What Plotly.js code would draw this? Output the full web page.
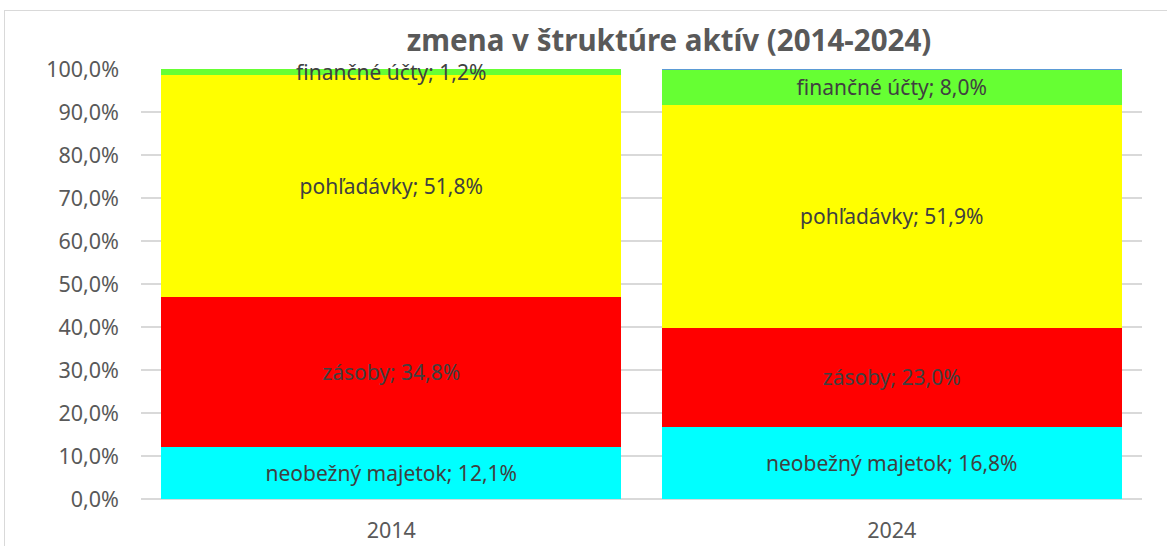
<!DOCTYPE html>
<html>
<head>
<meta charset="utf-8">
<script src="https://cdn.plot.ly/plotly-3.0.1.min.js"></script>
<style>
html,body{margin:0;padding:0;background:#fff;}
#wrap{position:relative;width:1167px;height:546px;overflow:hidden;}
#chart{width:1167px;height:546px;}
#frame{position:absolute;left:4px;top:10px;width:1200px;height:600px;border-left:1.5px solid #d9d9d9;border-top:1.5px solid #d9d9d9;pointer-events:none;}
</style>
</head>
<body>
<div id="wrap"><div id="chart"></div><div id="frame"></div></div>
<script>
const categories = ['2014', '2024'];
const seriesNames = ['neobežný majetok', 'zásoby', 'pohľadávky', 'finančné účty', 'ostatné'];
const neobezny = [12.1, 16.8];
const zasoby = [34.8, 23.0];
const pohladavky = [51.8, 51.9];
const financne = [1.2, 8.0];
const ostatne = [0.1, 0.3];
const yTickVals = [0, 10, 20, 30, 40, 50, 60, 70, 80, 90, 100];

const colors = ['#00ffff', '#ff0000', '#ffff00', '#66ff33', '#5b9bd5'];
const allValues = [neobezny, zasoby, pohladavky, financne, ostatne];
const showLabels = [true, true, true, true, false];

const fmt = v => v.toFixed(1).replace('.', ',');

const traces = allValues.map((vals, i) => ({
  type: 'bar',
  name: seriesNames[i],
  x: categories,
  y: vals,
  marker: {color: colors[i], line: {width: 0}},
  text: showLabels[i] ? vals.map(v => seriesNames[i] + '; ' + fmt(v) + '%') : vals.map(() => ''),
  texttemplate: '%{text}',
  textposition: showLabels[i] ? 'inside' : 'none',
  insidetextanchor: 'middle',
  constraintext: 'none',
  textangle: 0,
  cliponaxis: false,
  insidetextfont: {family: 'Noto Sans, sans-serif', size: 21, color: '#404040'},
  hoverinfo: 'skip'
}));

const layout = {
  width: 1167,
  height: 546,
  barmode: 'stack',
  bargap: 0.08,
  showlegend: false,
  separators: ',.',
  paper_bgcolor: '#ffffff',
  plot_bgcolor: '#ffffff',
  margin: {l: 141, r: 25, t: 69, b: 47, pad: 0},
  font: {family: 'Noto Sans, sans-serif', color: '#595959'},
  title: {
    text: '<b>zmena v štruktúre aktív (2014-2024)</b>',
    font: {family: 'Noto Sans, sans-serif', size: 29.5, color: '#595959'},
    xref: 'container', x: 669 / 1167, xanchor: 'center',
    yref: 'container', y: 1 - 41 / 546, yanchor: 'middle'
  },
  xaxis: {
    type: 'category',
    showgrid: false,
    showline: false,
    zeroline: false,
    ticks: '',
    tickfont: {family: 'Noto Sans, sans-serif', size: 21.5, color: '#595959'},
    ticklabelstandoff: 16
  },
  yaxis: {
    range: [0, 100],
    tickvals: yTickVals,
    ticktext: yTickVals.map(v => fmt(v) + '%'),
    showgrid: true,
    gridcolor: '#d9d9d9',
    gridwidth: 1.3,
    zeroline: true,
    zerolinecolor: '#d9d9d9',
    zerolinewidth: 1.5,
    showline: false,
    ticks: '',
    tickfont: {family: 'Noto Sans, sans-serif', size: 21.5, color: '#595959'},
    ticklabelstandoff: 21
  }
};

Plotly.newPlot('chart', traces, layout, {staticPlot: true, displayModeBar: false});
</script>
</body>
</html>
